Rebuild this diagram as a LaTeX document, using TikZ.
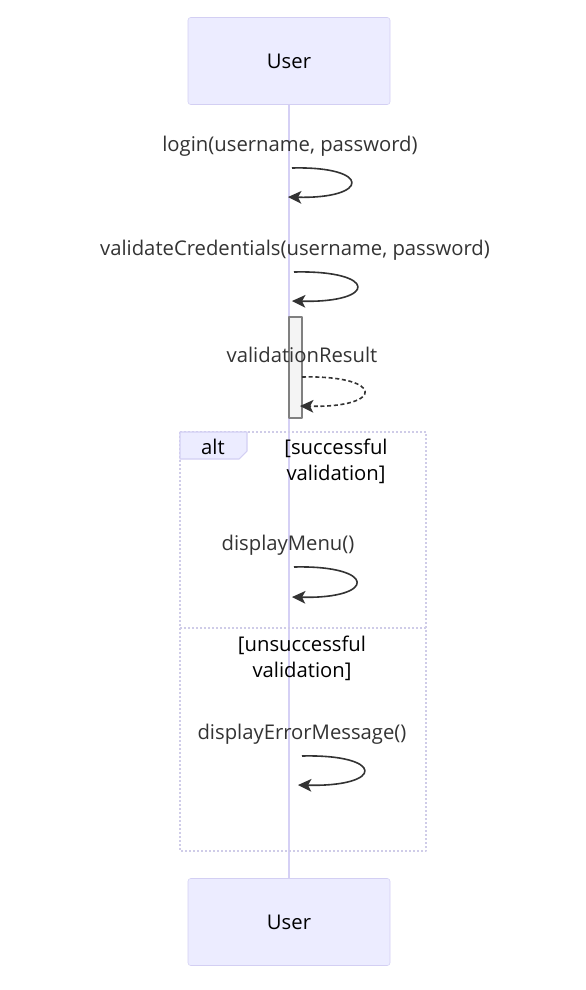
\documentclass[tikz,border=0pt]{standalone}
\usepackage{fontspec}
\setmainfont{Open Sans}
\usetikzlibrary{arrows.meta}
\definecolor{actfill}{HTML}{ECECFF}
\definecolor{actline}{HTML}{D3CFF3}
\definecolor{lifecol}{HTML}{D5D0F5}
\definecolor{msgcol}{HTML}{333333}
\definecolor{framecol}{HTML}{CFCCE8}
\definecolor{barfill}{HTML}{F4F4F4}
\begin{document}
\begin{tikzpicture}[x=0.75pt, y=-0.75pt, line join=round, >={Stealth[length=10pt,width=9.5pt,inset=2.5pt]}]
	\tikzset{every node/.style={font=\fontsize{15.2}{19.5}\selectfont},
		actorbox/.style={draw=actline, fill=actfill, rounded corners=2pt, minimum width=151.5pt, minimum height=65.25pt},
		lifeline/.style={draw=lifecol, line width=1.5pt},
		msg/.style={draw=msgcol, line width=1.2pt},
		reply/.style={msg, dash pattern=on 3pt off 2pt},
		msgtext/.style={text=msgcol},
		frame/.style={draw=framecol, line width=1.5pt, dash pattern=on 1.5pt off 1.5pt},
		guard/.style={align=center, text=black}}
	\useasboundingbox (0,0) rectangle (586,990);
	% participants
	\node[actorbox] (top) at (289,61) {User};
	\node[actorbox] (bot) at (289,922) {User};
	\draw[lifeline] (top.south) -- (bot.north);
	% activation
	\draw[draw=gray, fill=barfill, line width=0.8pt] (289,317) rectangle (302,418);
	% alt frame
	\draw[frame] (180,432) rectangle (426,851);
	\draw[frame] (180,628) -- (426,628);
	\draw[draw=actline, fill=actfill, line width=0.8pt] (180,432) -- (247,432) -- (247,451) -- (239,459) -- (180,459) -- cycle;
	\node (alt) at (213,447) {alt};
	% messages
	\node[msgtext] (t1) at (290,146) {login(username, password)};
	\node[msgtext] (t2) at (295,250) {validateCredentials(username, password)};
	\node[msgtext] (t3) at (302,355) {validationResult};
	\node[guard] (g1) at (336,461) {[successful\\validation]};
	\node[msgtext] (t4) at (288,545) {displayMenu()};
	\node[guard] (g2) at (302,658) {[unsuccessful\\validation]};
	\node[msgtext] (t5) at (302,734) {displayErrorMessage()};
	% self calls
	\foreach \n/\xa/\ya/\xb/\yb in {1/292/168/288/197, 2/294/272/292/301, 3/302/377/300/406, 4/294/567/292/597, 5/302/756/298/785}{
		\coordinate (s\n) at (\xa,\ya);
		\coordinate (e\n) at (\xb,\yb);
	}
	\draw[msg,->] (s1) .. controls +(80,-2) and +(82,2) .. (e1);
	\draw[msg,->] (s2) .. controls +(84,-2) and +(86,2) .. (e2);
	\draw[reply,->] (s3) .. controls +(83,-2) and +(85,2) .. (e3);
	\draw[msg,->] (s4) .. controls +(83,-2) and +(85,2) .. (e4);
	\draw[msg,->] (s5) .. controls +(83,-2) and +(87,2) .. (e5);
\end{tikzpicture}
\end{document}
